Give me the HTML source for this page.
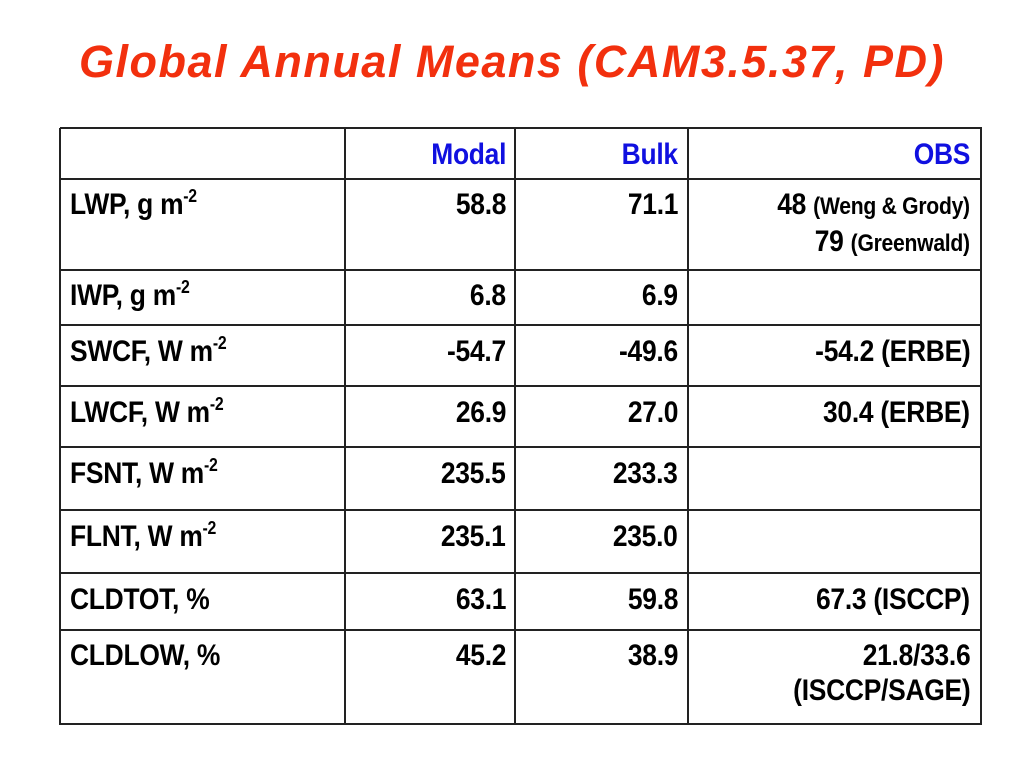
<!DOCTYPE html>
<html><head><meta charset="utf-8"><style>
body{margin:0;width:1024px;height:768px;background:#fff;position:relative;overflow:hidden;font-family:"Liberation Sans",Arial,sans-serif}
#title{position:absolute;left:0;width:1024px;top:36px;text-align:center;color:#f2300e;font-size:45px;font-weight:bold;font-style:italic;letter-spacing:1.5px}
.hl,.vl{position:absolute;background:#222}
.hl{height:2px;left:60px;width:922px}
.vl{width:2px;top:128px;height:597px}
.t{position:absolute;font-size:30px;font-weight:bold;color:#000;white-space:nowrap;letter-spacing:-0.3px;line-height:35px;transform:scaleX(0.88);transform-origin:left top}
.r{text-align:right;transform-origin:right top}
.h{color:#1010e0}
sup{font-size:18px;vertical-align:12px;line-height:0}
small{font-size:24px}
</style></head><body>
<div id="title">Global Annual Means (CAM3.5.37, PD)</div>
<div>
<div class="hl" style="top:127px"></div><div class="hl" style="top:178px"></div><div class="hl" style="top:269px"></div><div class="hl" style="top:324px"></div><div class="hl" style="top:385px"></div><div class="hl" style="top:446px"></div><div class="hl" style="top:509px"></div><div class="hl" style="top:572px"></div><div class="hl" style="top:629px"></div><div class="hl" style="top:723px"></div>
<div class="vl" style="left:59px"></div><div class="vl" style="left:344px"></div><div class="vl" style="left:514px"></div><div class="vl" style="left:687px"></div><div class="vl" style="left:980px"></div>
</div>
<div id="cells"></div>
<script>
const rows=["Header","LWP, g m<sup>-2</sup>","IWP, g m<sup>-2</sup>","SWCF, W m<sup>-2</sup>","LWCF, W m<sup>-2</sup>","FSNT, W m<sup>-2</sup>","FLNT, W m<sup>-2</sup>","CLDTOT, %","CLDLOW, %"];
const modal=["Modal","58.8","6.8","-54.7","26.9","235.5","235.1","63.1","45.2"];
const bulk=["Bulk","71.1","6.9","-49.6","27.0","233.3","235.0","59.8","38.9"];
const obs=["OBS","48 <small>(Weng &amp; Grody)</small><br>79 <small>(Greenwald)</small>","","-54.2 (ERBE)","30.4 (ERBE)","","","67.3 (ISCCP)","21.8/33.6<br>(ISCCP/SAGE)"];
const tops=[137,187,278,334,395,456,519,582,638];
const c=document.getElementById('cells');
function cell(html,left,right,top,cls,name){
  const d=document.createElement('div');
  d.className='t '+cls;
  
  
  d.innerHTML=html;
  d.style.top=top+'px';
  if(right!==null){d.style.right=(1024-right)+'px';}else d.style.left=left+'px';
  c.appendChild(d);
}
for(let i=0;i<rows.length;i++){
  const h=i===0?' h':'';
  if(i>0)cell(rows[i],70,null,tops[i],'','row-label');
  cell(modal[i],0,506,tops[i],'r'+h,'modal-value');
  cell(bulk[i],0,678,tops[i],'r'+h,'bulk-value');
  if(obs[i])cell(obs[i],0,970,tops[i],'r'+h,'obs-value');
}
</script>
</body></html>
